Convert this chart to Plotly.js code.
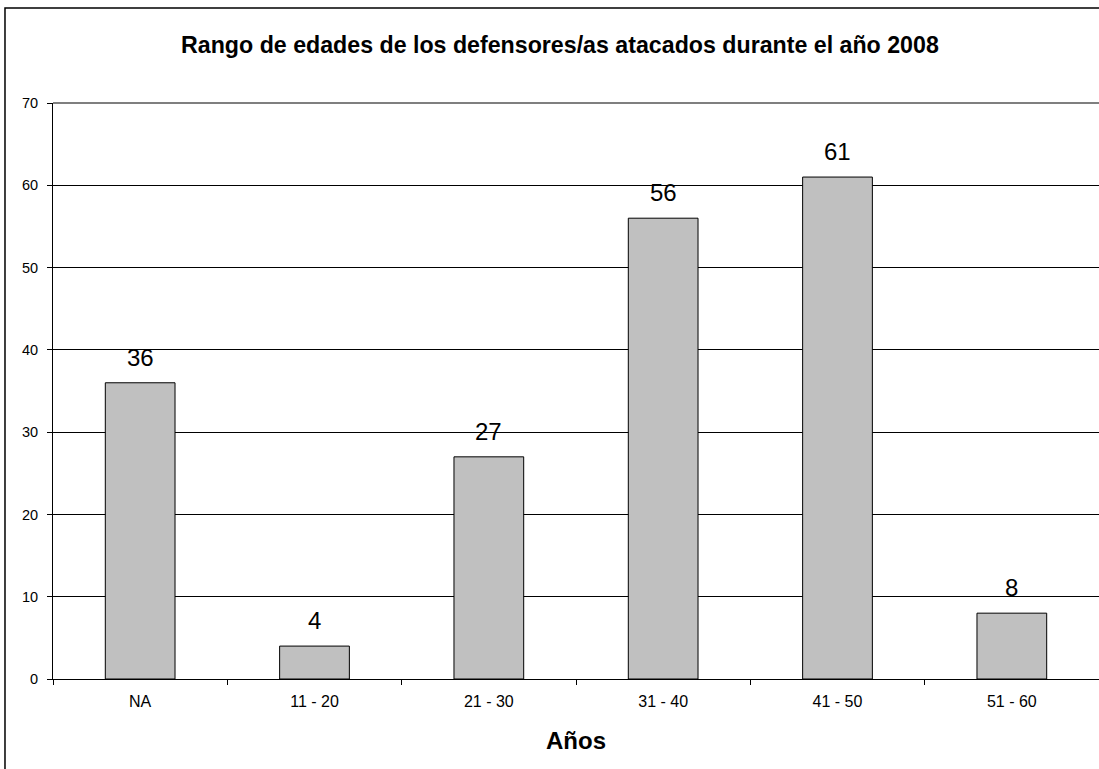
<!DOCTYPE html>
<html>
<head>
<meta charset="utf-8">
<script src="https://cdn.plot.ly/plotly-3.0.1.min.js"></script>
<style>html,body{margin:0;padding:0;background:#fff;}#chart{width:1099px;height:769px;}</style>
</head>
<body>
<div id="chart"></div>
<script>
const categories = ["NA", "11 - 20", "21 - 30", "31 - 40", "41 - 50", "51 - 60"];
const values = [36, 4, 27, 56, 61, 8];
const yTicks = [0, 10, 20, 30, 40, 50, 60, 70];

const font = "Liberation Sans, Arial, sans-serif";

const labels = categories.map((c, i) => ({
  x: c, y: values[i], xref: "x", yref: "y",
  text: String(values[i]), showarrow: false,
  yanchor: "bottom", yshift: 10,
  font: {family: font, size: 24, color: "#000"}
}));

Plotly.newPlot("chart", [{
  type: "bar",
  x: categories,
  y: values,
  width: 0.4,
  marker: {color: "#c0c0c0", line: {color: "#000", width: 1}},
  hoverinfo: "none"
}], {
  width: 1099, height: 769,
  margin: {l: 53, r: 0, t: 103, b: 90},
  paper_bgcolor: "#fff", plot_bgcolor: "#fff",
  showlegend: false,
  title: {text: "<b>Rango de edades de los defensores/as atacados durante el año 2008</b>",
          font: {family: font, size: 23.2, color: "#000"},
          xref: "container", x: 0.5095, y: 0.941, yanchor: "middle"},
  xaxis: {
    type: "category",
    tickson: "boundaries", ticks: "outside", ticklen: 5, tickcolor: "#000",
    showline: true, linecolor: "#000", linewidth: 1,
    showgrid: false,
    ticklabelstandoff: 8,
    tickfont: {family: font, size: 16, color: "#000"},
    title: {text: "<b>Años</b>", font: {family: font, size: 24, color: "#000"}, standoff: 22}
  },
  yaxis: {
    range: [0, 70], tickvals: yTicks, ticktext: yTicks.map(String),
    ticks: "outside", ticklen: 5, tickcolor: "#000",
    showline: true, linecolor: "#000", linewidth: 1,
    showgrid: true, gridcolor: "#000", gridwidth: 1,
    zeroline: false,
    ticklabelstandoff: 6,
    tickfont: {family: font, size: 14.5, color: "#000"}
  },
  annotations: labels,
  shapes: [{
    type: "rect", xref: "paper", yref: "paper",
    x0: -0.0459, x1: 1.2, y0: -0.5, y1: 1.1649,
    line: {color: "#000", width: 1.5}, fillcolor: "rgba(0,0,0,0)", layer: "below"
  }, {
    type: "line", xref: "paper", yref: "paper",
    x0: 0, x1: 1, y0: 1, y1: 1,
    line: {color: "#555", width: 1.5}
  }],
  bargap: 0.6
}, {displayModeBar: false, staticPlot: true});
</script>
</body>
</html>
